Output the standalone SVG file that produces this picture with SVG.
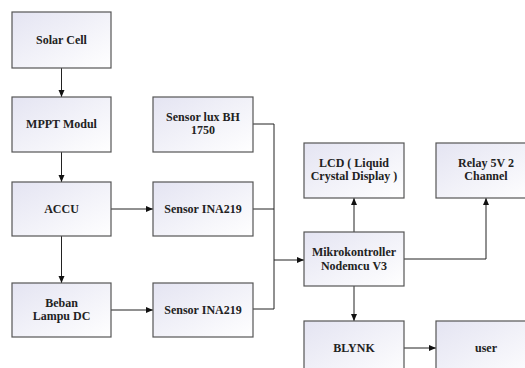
<svg xmlns="http://www.w3.org/2000/svg" width="525" height="368" viewBox="0 0 525 368">
<defs>
<linearGradient id="g" x1="0" y1="0" x2="1" y2="1">
<stop offset="0" stop-color="#e4e4f2"/>
<stop offset="1" stop-color="#ffffff"/>
</linearGradient>
<marker id="a" markerWidth="8" markerHeight="8" refX="7" refY="4" orient="auto" markerUnits="userSpaceOnUse">
<path d="M0,1 L7,4 L0,7 Z" fill="#111"/>
</marker>
</defs>
<style>
.b{fill:url(#g);stroke:#555;stroke-width:1.2}
.t{font-weight:bold;font-size:12px;fill:#222;text-anchor:middle}
.c{fill:none;stroke:#222;stroke-width:1}
.m{marker-end:url(#a)}
</style>
<rect width="525" height="368" fill="#fff"/>
<g id="connectors">
<path class="c m" d="M61.5,68 V97"/>
<path class="c m" d="M61.5,152 V182"/>
<path class="c m" d="M61.5,236 V283"/>
<path class="c m" d="M111,209 H153"/>
<path class="c m" d="M111,310 H153"/>
<path class="c" d="M253,124 H274 V309 H253"/>
<path class="c" d="M253,209 H274"/>
<path class="c m" d="M274,260 H304"/>
<path class="c m" d="M354,232 V198"/>
<path class="c m" d="M404,259 H486 V198"/>
<path class="c m" d="M354,286 V321"/>
<path class="c m" d="M404,348 H436"/>
</g>
<g font-family="Liberation Serif, DejaVu Serif, serif">
<g id="solar"><rect class="b" x="12" y="12" width="99" height="56"/><text class="t" x="61.5" y="44">Solar Cell</text></g>
<g id="mppt"><rect class="b" x="12" y="97" width="99" height="55"/><text class="t" x="61.5" y="128">MPPT Modul</text></g>
<g id="accu"><rect class="b" x="12" y="182" width="99" height="54"/><text class="t" x="61.5" y="213">ACCU</text></g>
<g id="beban"><rect class="b" x="12" y="283" width="99" height="54"/><text class="t" x="61.5" y="307">Beban</text><text class="t" x="61.5" y="320">Lampu DC</text></g>
<g id="lux"><rect class="b" x="153" y="97" width="100" height="55"/><text class="t" x="203" y="121">Sensor lux BH</text><text class="t" x="203" y="134">1750</text></g>
<g id="ina1"><rect class="b" x="153" y="182" width="100" height="54"/><text class="t" x="203" y="213">Sensor INA219</text></g>
<g id="ina2"><rect class="b" x="153" y="283" width="100" height="54"/><text class="t" x="203" y="314">Sensor INA219</text></g>
<g id="mikro"><rect class="b" x="304" y="232" width="100" height="54"/><text class="t" x="354" y="256">Mikrokontroller</text><text class="t" x="354" y="270">Nodemcu V3</text></g>
<g id="lcd"><rect class="b" x="304" y="143" width="100" height="55"/><text class="t" x="354" y="167">LCD ( Liquid</text><text class="t" x="354" y="180">Crystal Display )</text></g>
<g id="relay"><rect class="b" x="436" y="143" width="100" height="55"/><text class="t" x="486" y="167">Relay 5V 2</text><text class="t" x="486" y="180">Channel</text></g>
<g id="blynk"><rect class="b" x="304" y="321" width="100" height="60"/><text class="t" x="354" y="352">BLYNK</text></g>
<g id="user"><rect class="b" x="436" y="321" width="100" height="60"/><text class="t" x="486" y="352">user</text></g>
</g>
</svg>
